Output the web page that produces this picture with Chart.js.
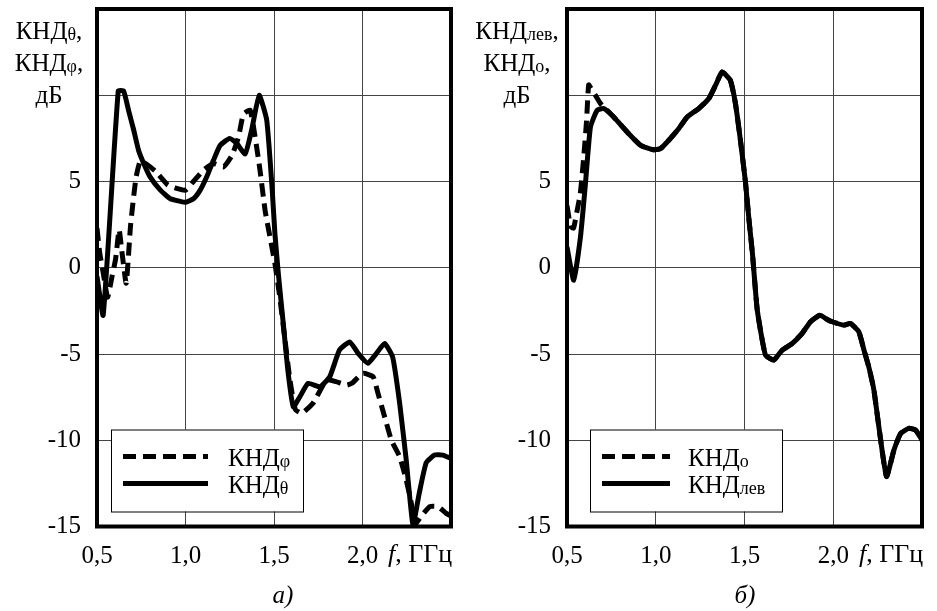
<!DOCTYPE html>
<html>
<head>
<meta charset="utf-8">
<script src="https://cdn.jsdelivr.net/npm/chart.js@4.4.1/dist/chart.umd.min.js"></script>
<style>
    body { margin: 0; background: #fff; width: 937px; height: 611px; position: relative; overflow: hidden; }
    .panel { position: absolute; top: 0; height: 611px; }
</style>
</head>
<body>
<div class="panel" style="left:0;width:468px"><canvas id="chartA"></canvas></div>
<div class="panel" style="left:470px;width:467px"><canvas id="chartB"></canvas></div>
<script>
// Values: f in GHz, directivity in dB

// a) КНДθ (solid)
const thetaF = [0.50, 0.535, 0.62, 0.65, 0.679, 0.707, 0.735, 0.764, 0.80, 0.858, 0.914, 0.97, 1.0,
    1.045, 1.083, 1.12, 1.158, 1.196, 1.25, 1.29, 1.337, 1.374, 1.416, 1.459, 1.49, 1.505, 1.525,
    1.552, 1.58, 1.609, 1.646, 1.693, 1.76, 1.815, 1.87, 1.928, 1.975, 2.03, 2.079, 2.125, 2.17,
    2.21, 2.247, 2.285, 2.32, 2.36, 2.407, 2.454, 2.5];
const thetaDb = [-0.5, -2.75, 10.25, 10.25, 9.1, 8.0, 6.8, 6.05, 5.27, 4.5, 4.0, 3.85, 3.8,
    4.0, 4.5, 5.27, 6.23, 7.1, 7.5, 7.2, 6.6, 8.0, 10.0, 8.55, 4.5, 2.0, -0.4,
    -3.2, -6.1, -8.06, -7.48, -6.7, -6.9, -6.32, -4.77, -4.3, -4.96, -5.54, -4.96, -4.39, -5.16,
    -7.86, -11.15, -14.9, -13.1, -11.3, -10.86, -10.86, -11.05];

// a) КНДφ (dashed)
const phiF = [0.50, 0.515, 0.535, 0.56, 0.585, 0.605, 0.625, 0.64, 0.665, 0.69, 0.72, 0.745, 0.78,
    0.83, 0.90, 0.95, 1.0, 1.045, 1.10, 1.158, 1.214, 1.262, 1.30, 1.327, 1.365, 1.393, 1.421,
    1.45, 1.477, 1.505, 1.53, 1.56, 1.59, 1.62, 1.656, 1.72, 1.797, 1.85, 1.91, 1.94, 2.003,
    2.06, 2.088, 2.125, 2.163, 2.21, 2.247, 2.276, 2.294, 2.33, 2.38, 2.426, 2.473, 2.5];
const phiDb = [2.3, 0.9, -0.3, -1.7, -0.5, 0.5, 2.2, 1.0, -0.9, 2.5, 5.2, 6.2, 6.0,
    5.6, 4.8, 4.6, 4.5, 5.0, 5.65, 6.04, 5.85, 6.5, 7.6, 8.9, 9.13, 7.6, 5.65,
    3.3, 1.8, 0.25, -1.5, -4.0, -6.5, -8.2, -8.44, -7.86, -6.5, -6.6, -6.8, -6.7, -6.12,
    -6.32, -7.3, -8.64, -9.99, -10.96, -12.3, -13.66, -14.9, -14.43, -13.85, -13.85, -14.24, -14.4];

// б) КНДлев (solid)
const levF = [0.50, 0.538, 0.576, 0.604, 0.632, 0.67, 0.707, 0.763, 0.839, 0.914, 0.98, 1.026,
    1.083, 1.13, 1.177, 1.242, 1.299, 1.337, 1.374, 1.42, 1.449, 1.477, 1.505, 1.525, 1.545,
    1.572, 1.618, 1.665, 1.713, 1.769, 1.825, 1.872, 1.925, 1.966, 1.994, 2.06, 2.097, 2.144,
    2.173, 2.2, 2.229, 2.257, 2.3, 2.342, 2.38, 2.426, 2.464, 2.5];
const levDb = [1.2, -0.72, 1.8, 4.88, 8.16, 9.13, 9.23, 8.74, 7.87, 7.1, 6.85, 6.9,
    7.5, 8.07, 8.74, 9.23, 9.81, 10.58, 11.35, 10.87, 9.52, 7.39, 5.0, 2.8, 0.8,
    -2.46, -5.06, -5.35, -4.77, -4.39, -3.8, -3.13, -2.75, -3.0, -3.13, -3.33, -3.23, -3.71,
    -4.77, -5.74, -7.09, -9.22, -12.1, -10.57, -9.6, -9.31, -9.41, -9.99];

// б) КНДо (dashed)
const oF = [0.50, 0.52, 0.537, 0.555, 0.575, 0.595, 0.61, 0.622, 0.635, 0.66, 0.69, 0.72, 0.763,
    0.839, 0.914, 0.98, 1.026, 1.083, 1.13, 1.177, 1.242, 1.299, 1.337, 1.374, 1.42, 1.449,
    1.477, 1.505, 1.525, 1.545, 1.572, 1.618, 1.665, 1.713, 1.769, 1.825, 1.872, 1.925, 1.966,
    1.994, 2.06, 2.097, 2.144, 2.173, 2.2, 2.229, 2.257, 2.3, 2.342, 2.38, 2.426, 2.464, 2.5];
const oDb = [3.6, 2.4, 2.3, 3.2, 4.3, 6.5, 8.5, 10.6, 10.4, 10.0, 9.5, 9.2, 8.74,
    7.87, 7.1, 6.85, 6.9, 7.5, 8.07, 8.74, 9.23, 9.81, 10.58, 11.35, 10.87, 9.52,
    7.39, 5.0, 2.8, 0.8, -2.46, -5.06, -5.35, -4.77, -4.39, -3.8, -3.13, -2.75, -3.0,
    -3.13, -3.33, -3.23, -3.71, -4.77, -5.74, -7.09, -9.22, -12.1, -10.57, -9.6, -9.31, -9.41, -9.99];

// Axis ticks
const xTicks = [0.5, 1.0, 1.5, 2.0];
const xTickLabels = ['0,5', '1,0', '1,5', '2,0'];
const yTicks = [-15, -10, -5, 0, 5];
const yTickLabels = ['-15', '-10', '-5', '0', '5'];

const SERIF = '"Liberation Serif", "Times New Roman", serif';

const toPoints = (fs, vs) => fs.map((f, i) => ({ x: f, y: vs[i] }));

// Draw a run of text pieces (main text + smaller subscript)
const drawRich = (ctx, parts, x, y, align) => {
    let total = 0;
    parts.forEach(p => {
        ctx.font = (p.italic ? 'italic ' : '') + p.size + 'px ' + SERIF;
        p.w = ctx.measureText(p.t).width;
        total += p.w;
    });
    let cx = align === 'center' ? x - total / 2 : x;
    ctx.textAlign = 'left';
    ctx.textBaseline = 'alphabetic';
    ctx.fillStyle = '#000';
    parts.forEach(p => {
        ctx.font = (p.italic ? 'italic ' : '') + p.size + 'px ' + SERIF;
        ctx.fillText(p.t, cx, y + (p.dy || 0));
        cx += p.w;
    });
};

const knd = (sub, tail) => [
    { t: 'КНД', size: 25 },
    { t: sub, size: 18, dy: 1 },
    { t: tail || '', size: 25 }
];

// Frame, axis title, legend box and caption
const decorPlugin = {
    id: 'decor',
    afterDraw(chart, args, opts) {
        const ctx = chart.ctx;
        const area = chart.chartArea;
        ctx.save();

        // thick frame
        ctx.strokeStyle = '#000';
        ctx.lineWidth = 4;
        ctx.setLineDash([]);
        ctx.strokeRect(area.left, area.top, area.right - area.left, area.bottom - area.top);

        // y title
        opts.title.forEach((line, i) => drawRich(ctx, line, opts.titleX, 39 + i * 32, 'center'));

        // x title
        drawRich(ctx, [{ t: 'f', size: 26, italic: true }, { t: ', ГГц', size: 26 }], area.right - 63, 562, 'left');

        // legend
        const lg = opts.legend;
        const bx = area.left + lg.left;
        const by = area.bottom - 15 - 82;
        ctx.fillStyle = '#fff';
        ctx.fillRect(bx, by, lg.width, 82);
        ctx.strokeStyle = '#000';
        ctx.lineWidth = 1;
        ctx.strokeRect(bx + 0.5, by + 0.5, lg.width, 82);
        chart.data.datasets.forEach((ds, i) => {
            const ly = by + 27 + i * 27;
            ctx.lineWidth = 5;
            ctx.setLineDash(ds.borderDash || []);
            ctx.beginPath();
            ctx.moveTo(bx + 12, ly);
            ctx.lineTo(bx + 12 + lg.sample, ly);
            ctx.stroke();
            ctx.setLineDash([]);
            drawRich(ctx, knd(ds.label.slice(3)), bx + lg.textX, ly + 9, 'left');
        });

        // caption
        drawRich(ctx, [{ t: opts.caption, size: 25, italic: true }], opts.captionX, 603, 'center');
        ctx.restore();
    }
};

const makeChart = (id, dashed, solid, decor) => {
    const ctx = document.getElementById(id).getContext('2d');
    return new Chart(ctx, {
        type: 'line',
        data: {
            datasets: [
                {
                    label: dashed.label,
                    data: dashed.data,
                    borderColor: '#000',
                    borderWidth: 5,
                    borderDash: [13, 7],
                    pointRadius: 0,
                    tension: 0.15,
                    fill: false
                },
                {
                    label: solid.label,
                    data: solid.data,
                    borderColor: '#000',
                    borderWidth: 5,
                    pointRadius: 0,
                    tension: 0.15,
                    fill: false
                }
            ]
        },
        options: {
            responsive: true,
            maintainAspectRatio: false,
            animation: false,
            layout: { padding: { top: 9, right: decor.padRight, left: 0, bottom: 0 } },
            plugins: {
                legend: { display: false },
                tooltip: { enabled: false },
                decor: decor
            },
            scales: {
                x: {
                    type: 'linear',
                    min: 0.5,
                    max: 2.5,
                    afterBuildTicks: axis => {
                        axis.ticks = xTicks.concat([2.5]).map(v => ({ value: v }));
                    },
                    ticks: {
                        autoSkip: false,
                        maxRotation: 0,
                        padding: 15,
                        color: '#000',
                        font: { family: SERIF, size: 25 },
                        callback: v => {
                            const i = xTicks.indexOf(v);
                            return i >= 0 ? xTickLabels[i] : '';
                        }
                    },
                    grid: { color: '#444', lineWidth: 1, drawTicks: false },
                    border: { display: false },
                    afterFit: axis => {
                        axis.height = 84.5;
                        axis.paddingLeft = 0;
                        axis.paddingRight = 0;
                    }
                },
                y: {
                    min: -15,
                    max: 15,
                    afterBuildTicks: axis => {
                        axis.ticks = [-15, -10, -5, 0, 5, 10, 15].map(v => ({ value: v }));
                    },
                    ticks: {
                        padding: 16,
                        color: '#000',
                        font: { family: SERIF, size: 25 },
                        callback: v => {
                            const i = yTicks.indexOf(v);
                            return i >= 0 ? yTickLabels[i] : '';
                        }
                    },
                    grid: { color: '#444', lineWidth: 1, drawTicks: false },
                    border: { display: false },
                    afterFit: axis => {
                        axis.width = 97;
                        axis.paddingTop = 0;
                        axis.paddingBottom = 0;
                    }
                }
            }
        },
        plugins: [decorPlugin]
    });
};

makeChart('chartA',
    { label: 'КНДφ', data: toPoints(phiF, phiDb) },
    { label: 'КНДθ', data: toPoints(thetaF, thetaDb) },
    {
        padRight: 17,
        title: [knd('θ', ','), knd('φ', ','), [{ t: 'дБ', size: 25 }]],
        titleX: 49,
        legend: { left: 14, width: 192, sample: 85, textX: 117 },
        caption: 'а)',
        captionX: 283
    });

makeChart('chartB',
    { label: 'КНДо', data: toPoints(oF, oDb) },
    { label: 'КНДлев', data: toPoints(levF, levDb) },
    {
        padRight: 15,
        title: [knd('лев', ','), knd('о', ','), [{ t: 'дБ', size: 25 }]],
        titleX: 47,
        legend: { left: 23, width: 192, sample: 68, textX: 98 },
        caption: 'б)',
        captionX: 275
    });
</script>
</body>
</html>
